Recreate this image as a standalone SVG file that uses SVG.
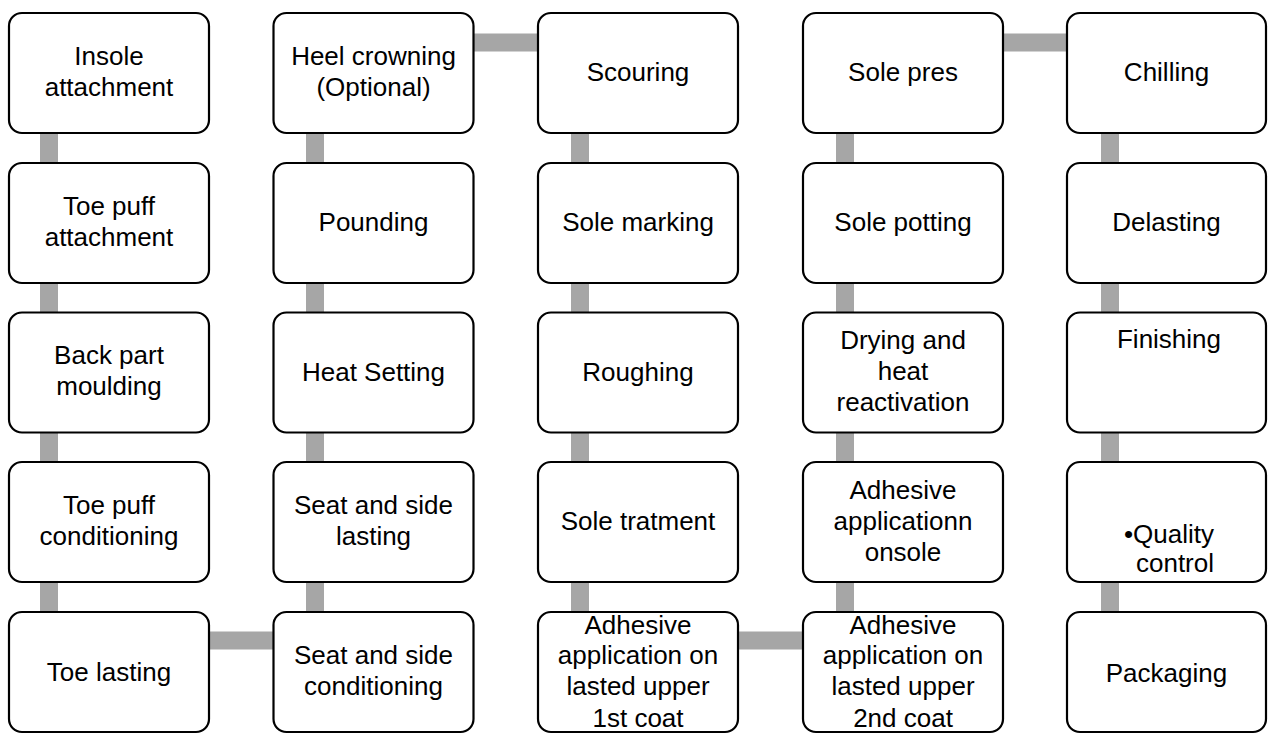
<svg xmlns="http://www.w3.org/2000/svg" width="1268" height="735" viewBox="0 0 1268 735">
<style>
.box{fill:#fff;stroke:#000;stroke-width:2.2}
.c{fill:#a6a6a6}
text{font-family:"Liberation Sans",Arial,sans-serif;font-size:26px;fill:#000;text-anchor:middle}
</style>
<rect width="1268" height="735" fill="#fff"/>
<g id="connectors">
<rect class="c" x="40" y="132" width="18" height="32"/>
<rect class="c" x="40" y="282" width="18" height="32"/>
<rect class="c" x="40" y="431" width="18" height="32"/>
<rect class="c" x="40" y="581" width="18" height="32"/>
<rect class="c" x="208" y="631.5" width="66" height="18"/>
<rect class="c" x="306" y="132" width="18" height="32"/>
<rect class="c" x="306" y="282" width="18" height="32"/>
<rect class="c" x="306" y="431" width="18" height="32"/>
<rect class="c" x="306" y="581" width="18" height="32"/>
<rect class="c" x="472" y="33.5" width="67" height="18"/>
<rect class="c" x="571" y="132" width="18" height="32"/>
<rect class="c" x="571" y="282" width="18" height="32"/>
<rect class="c" x="571" y="431" width="18" height="32"/>
<rect class="c" x="571" y="581" width="18" height="32"/>
<rect class="c" x="737" y="631.5" width="67" height="18"/>
<rect class="c" x="836" y="132" width="18" height="32"/>
<rect class="c" x="836" y="282" width="18" height="32"/>
<rect class="c" x="836" y="431" width="18" height="32"/>
<rect class="c" x="836" y="581" width="18" height="32"/>
<rect class="c" x="1002" y="33.5" width="67" height="18"/>
<rect class="c" x="1101" y="132" width="18" height="32"/>
<rect class="c" x="1101" y="282" width="18" height="32"/>
<rect class="c" x="1101" y="431" width="18" height="32"/>
<rect class="c" x="1101" y="581" width="18" height="32"/>
</g>
<g id="n1"><rect class="box" x="9" y="13" width="200" height="120" rx="13"/><text x="109" y="65">Insole</text><text x="109" y="96">attachment</text></g>
<g id="n2"><rect class="box" x="9" y="163" width="200" height="120" rx="13"/><text x="109" y="215">Toe puff</text><text x="109" y="246">attachment</text></g>
<g id="n3"><rect class="box" x="9" y="312.5" width="200" height="120" rx="13"/><text x="109" y="364">Back part</text><text x="109" y="395">moulding</text></g>
<g id="n4"><rect class="box" x="9" y="462" width="200" height="120" rx="13"/><text x="109" y="514">Toe puff</text><text x="109" y="545">conditioning</text></g>
<g id="n5"><rect class="box" x="9" y="612" width="200" height="120" rx="13"/><text x="109" y="681">Toe lasting</text></g>
<g id="n6"><rect class="box" x="273.5" y="612" width="200" height="120" rx="13"/><text x="373.5" y="664">Seat and side</text><text x="373.5" y="695">conditioning</text></g>
<g id="n7"><rect class="box" x="273.5" y="462" width="200" height="120" rx="13"/><text x="373.5" y="514">Seat and side</text><text x="373.5" y="545">lasting</text></g>
<g id="n8"><rect class="box" x="273.5" y="312.5" width="200" height="120" rx="13"/><text x="373.5" y="381">Heat Setting</text></g>
<g id="n9"><rect class="box" x="273.5" y="163" width="200" height="120" rx="13"/><text x="373.5" y="231">Pounding</text></g>
<g id="n10"><rect class="box" x="273.5" y="13" width="200" height="120" rx="13"/><text x="373.5" y="65">Heel crowning</text><text x="373.5" y="96">(Optional)</text></g>
<g id="n11"><rect class="box" x="538" y="13" width="200" height="120" rx="13"/><text x="638" y="81">Scouring</text></g>
<g id="n12"><rect class="box" x="538" y="163" width="200" height="120" rx="13"/><text x="638" y="231">Sole marking</text></g>
<g id="n13"><rect class="box" x="538" y="312.5" width="200" height="120" rx="13"/><text x="638" y="381">Roughing</text></g>
<g id="n14"><rect class="box" x="538" y="462" width="200" height="120" rx="13"/><text x="638" y="530">Sole tratment</text></g>
<g id="n15"><rect class="box" x="538" y="612" width="200" height="120" rx="13"/><text x="638" y="634">Adhesive</text><text x="638" y="664">application on</text><text x="638" y="695">lasted upper</text><text x="638" y="727">1st coat</text></g>
<g id="n16"><rect class="box" x="803" y="612" width="200" height="120" rx="13"/><text x="903" y="634">Adhesive</text><text x="903" y="664">application on</text><text x="903" y="695">lasted upper</text><text x="903" y="727">2nd coat</text></g>
<g id="n17"><rect class="box" x="803" y="462" width="200" height="120" rx="13"/><text x="903" y="499">Adhesive</text><text x="903" y="530">applicationn</text><text x="903" y="561">onsole</text></g>
<g id="n18"><rect class="box" x="803" y="312.5" width="200" height="120" rx="13"/><text x="903" y="349">Drying and</text><text x="903" y="380">heat</text><text x="903" y="411">reactivation</text></g>
<g id="n19"><rect class="box" x="803" y="163" width="200" height="120" rx="13"/><text x="903" y="231">Sole potting</text></g>
<g id="n20"><rect class="box" x="803" y="13" width="200" height="120" rx="13"/><text x="903" y="81">Sole pres</text></g>
<g id="n21"><rect class="box" x="1067" y="13" width="199" height="120" rx="13"/><text x="1166.5" y="81">Chilling</text></g>
<g id="n22"><rect class="box" x="1067" y="163" width="199" height="120" rx="13"/><text x="1166.5" y="231">Delasting</text></g>
<g id="n23"><rect class="box" x="1067" y="312.5" width="199" height="120" rx="13"/><text x="1169" y="348">Finishing</text></g>
<g id="n24"><rect class="box" x="1067" y="462" width="199" height="120" rx="13"/><text x="1169" y="543">•Quality</text><text x="1175" y="572">control</text></g>
<g id="n25"><rect class="box" x="1067" y="612" width="199" height="120" rx="13"/><text x="1166.5" y="682">Packaging</text></g>
</svg>
